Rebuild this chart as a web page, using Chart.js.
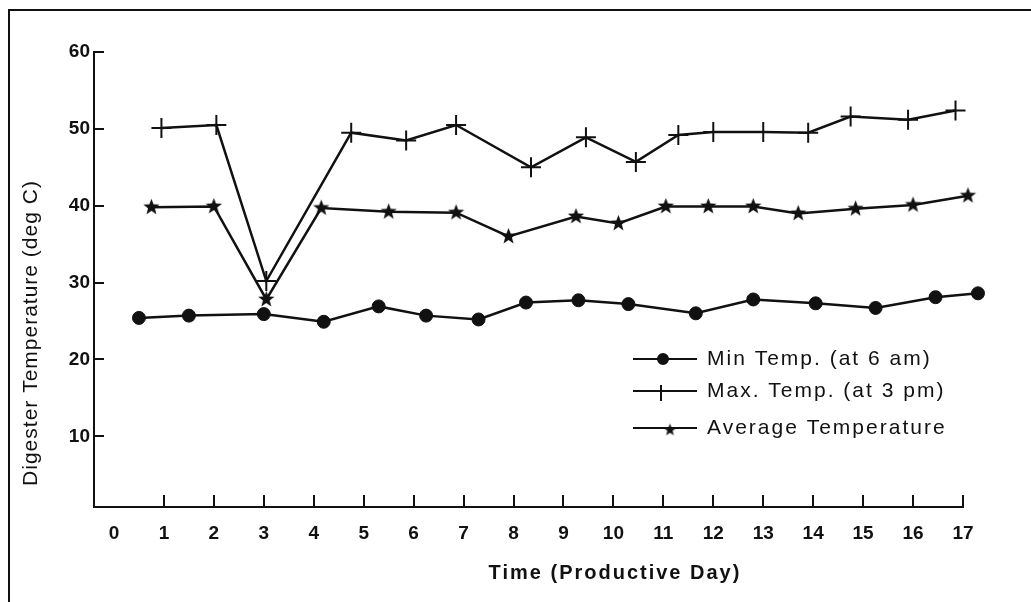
<!DOCTYPE html>
<html lang="en">
<head>
<meta charset="UTF-8">
<title>Digester Temperature</title>
<script src="https://cdn.jsdelivr.net/npm/chart.js"></script>
<style>
  html, body { margin: 0; padding: 0; background: #fff; }
  #wrap { width: 1031px; height: 602px; position: relative; }
</style>
</head>
<body>
<div id="wrap"><canvas id="myChart"></canvas></div>
<script>
// readings per productive day (deg C)
const minDays  = [0.5, 1.5, 3.0, 4.2, 5.3, 6.25, 7.3, 8.25, 9.3, 10.3, 11.65, 12.8, 14.05, 15.25, 16.45, 17.3];
const minTemps = [25.4, 25.7, 25.9, 24.9, 26.9, 25.7, 25.2, 27.4, 27.7, 27.2, 26.0, 27.8, 27.3, 26.7, 28.1, 28.6];

const maxDays  = [0.95, 2.05, 3.05, 4.75, 5.85, 6.85, 8.35, 9.45, 10.45, 11.3, 12.0, 13.0, 13.9, 14.75, 15.9, 16.85];
const maxTemps = [50.1, 50.5, 30.2, 49.5, 48.5, 50.5, 45.0, 48.9, 45.7, 49.2, 49.6, 49.6, 49.5, 51.6, 51.2, 52.4];

const avgDays  = [0.75, 2.0, 3.05, 4.15, 5.5, 6.85, 7.9, 9.25, 10.1, 11.05, 11.9, 12.8, 13.7, 14.85, 16.0, 17.1];
const avgTemps = [39.8, 39.9, 27.8, 39.7, 39.2, 39.1, 36.0, 38.6, 37.7, 39.9, 39.9, 39.9, 39.0, 39.6, 40.1, 41.3];

const dayTicks  = [0, 1, 2, 3, 4, 5, 6, 7, 8, 9, 10, 11, 12, 13, 14, 15, 16, 17];
const tempTicks = [10, 20, 30, 40, 50, 60];

const seriesNames = ['Min Temp. (at 6 am)', 'Max. Temp. (at 3 pm)', 'Average Temperature'];

const INK = '#111';
Chart.defaults.font.family = "'Liberation Sans', Arial, sans-serif";
Chart.defaults.color = INK;

// filled five-point star used as a point marker
function makeStar(r) {
  const c = document.createElement('canvas');
  c.width = c.height = Math.ceil(r * 2) + 2;
  const g = c.getContext('2d');
  const m = c.width / 2;
  g.beginPath();
  for (let i = 0; i < 10; i++) {
    const rad = i % 2 ? r * 0.42 : r;
    const a = -Math.PI / 2 + i * Math.PI / 5;
    g.lineTo(m + rad * Math.cos(a), m + rad * Math.sin(a));
  }
  g.closePath();
  g.fillStyle = INK;
  g.fill();
  return c;
}
const bigStar = makeStar(8.5);
const smallStar = makeStar(6.5);

const toPoints = (xs, ys) => xs.map((x, i) => ({ x: x, y: ys[i] }));

// frame, axis titles and the in-plot key
const decor = {
  id: 'decor',
  beforeDraw(chart) {
    const ctx = chart.ctx;
    ctx.save();
    ctx.strokeStyle = INK;
    ctx.lineWidth = 2;
    ctx.beginPath();
    ctx.moveTo(9, 602);
    ctx.lineTo(9, 10);
    ctx.lineTo(1031, 10);
    ctx.stroke();
    ctx.restore();
  },
  afterDraw(chart) {
    const ctx = chart.ctx;
    const a = chart.chartArea;
    ctx.save();
    ctx.fillStyle = INK;
    ctx.textAlign = 'center';
    ctx.textBaseline = 'middle';

    ctx.font = "bold 20px 'Liberation Sans'";
    ctx.letterSpacing = '2px';
    ctx.fillText('Time (Productive Day)', a.left + 521, a.bottom + 66);

    ctx.save();
    ctx.translate(31, a.bottom - 174);
    ctx.rotate(-Math.PI / 2);
    ctx.font = "21px 'Liberation Sans'";
    ctx.letterSpacing = '1px';
    ctx.fillText('Digester Temperature (deg C)', 0, 0);
    ctx.restore();

    // key
    const rows = [a.top + 307, a.top + 339, a.top + 376];
    const marks = [
      { pointStyle: 'circle', radius: 5, dx: 30 },
      { pointStyle: 'line', radius: 0, dx: 28 },
      { pointStyle: smallStar, radius: 6, dx: 37 }
    ];
    const x0 = a.left + 539, x1 = a.left + 603;
    ctx.font = "21px 'Liberation Sans'";
    ctx.letterSpacing = '2px';
    ctx.textAlign = 'left';
    ctx.lineWidth = 2;
    ctx.strokeStyle = INK;
    rows.forEach((y, i) => {
      ctx.beginPath();
      ctx.moveTo(x0, y);
      ctx.lineTo(x1, y);
      ctx.stroke();
      const mk = marks[i];
      if (i === 1) {
        ctx.beginPath();
        ctx.moveTo(x0 + mk.dx, y - 6);
        ctx.lineTo(x0 + mk.dx, y + 10);
        ctx.stroke();
      } else {
        Chart.helpers.drawPoint(ctx, { pointStyle: mk.pointStyle, radius: mk.radius, borderWidth: 1, rotation: 0 },
          x0 + mk.dx, i === 2 ? y + 2 : y);
        if (i === 0) ctx.fill();
      }
      ctx.fillText(seriesNames[i], a.left + 613, y);
    });
    ctx.restore();
  }
};

const line = {
  borderColor: INK,
  backgroundColor: INK,
  borderWidth: 2.5,
  pointBorderColor: INK,
  pointBackgroundColor: INK,
  // a large hover radius keeps the end markers past day 17 from being culled
  pointHoverRadius: 22,
  tension: 0,
  clip: false
};

new Chart(document.getElementById('myChart'), {
  type: 'line',
  data: {
    datasets: [
      Object.assign({}, line, {
        label: seriesNames[0],
        data: toPoints(minDays, minTemps),
        pointStyle: 'circle',
        pointRadius: 6.5,
        pointBorderWidth: 1
      }),
      Object.assign({}, line, {
        label: seriesNames[1],
        data: toPoints(maxDays, maxTemps),
        pointStyle: 'cross',
        pointRadius: 10,
        pointBorderWidth: 2
      }),
      Object.assign({}, line, {
        label: seriesNames[2],
        data: toPoints(avgDays, avgTemps),
        pointStyle: bigStar,
        pointRadius: 9
      })
    ]
  },
  options: {
    responsive: true,
    maintainAspectRatio: false,
    animation: false,
    events: [],
    layout: { padding: { left: 10, right: 68, top: 52, bottom: 0 } },
    plugins: {
      legend: { display: false },
      tooltip: { enabled: false }
    },
    scales: {
      x: {
        type: 'linear',
        min: -0.4,
        max: 17,
        afterBuildTicks: s => { s.ticks = dayTicks.map(v => ({ value: v })); },
        afterFit: s => { s.height = 95; },
        border: { display: true, color: INK, width: 2 },
        grid: {
          drawOnChartArea: false,
          tickLength: -12,
          lineWidth: 2,
          color: c => (c.tick && c.tick.value === 0 ? 'rgba(0,0,0,0)' : INK)
        },
        ticks: {
          padding: 27,
          maxRotation: 0,
          autoSkip: false,
          font: { size: 19, weight: 'bold' },
          color: INK
        }
      },
      y: {
        min: 0.8,
        max: 60,
        afterBuildTicks: s => { s.ticks = tempTicks.map(v => ({ value: v })); },
        afterFit: s => { s.width = 84; },
        border: { display: true, color: INK, width: 2 },
        grid: {
          drawOnChartArea: false,
          tickLength: -10,
          lineWidth: 2,
          color: INK
        },
        ticks: {
          padding: 14,
          font: { size: 19, weight: 'bold' },
          color: INK
        }
      }
    }
  },
  plugins: [decor]
});
</script>
</body>
</html>
